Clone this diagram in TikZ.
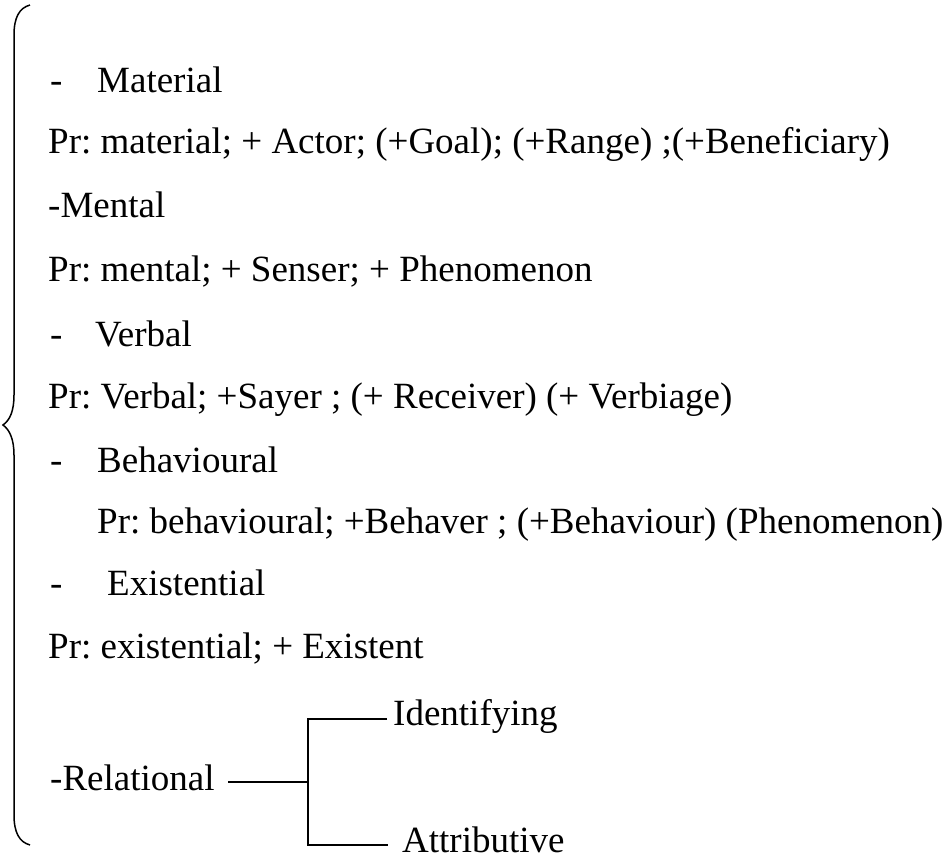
\documentclass[tikz,border=0pt]{standalone}
\usepackage{fontspec}
\setmainfont{Liberation Serif}
\frenchspacing
\begin{document}
\begin{tikzpicture}[x=1pt,y=-1pt,
  txt/.style={anchor=base west, inner sep=0pt, font=\fontsize{37}{44}\selectfont\frenchspacing},
  ln/.style={line width=1.8pt},
  bracestyle/.style={line width=1.5pt}]
\useasboundingbox (0,0) rectangle (950,857);
% brace
\draw[bracestyle] (30,5) .. controls (19,8) and (14,18) .. (14,35) -- (14,395)
  .. controls (14,411) and (10,420) .. (3,425)
  .. controls (10,430) and (14,440) .. (14,455) -- (14,815)
  .. controls (14,832) and (19,842) .. (30,845);
% rows
\node[txt] (d1) at (50,92) {-};
\node[txt] (mat) at (97,92) {Material};
\node[txt] (prmat) at (48,153) {Pr: material; + Actor; (+Goal); (+Range) ;(+Beneficiary)};
\node[txt] (men) at (48,217) {-Mental};
\node[txt] (prmen) at (48,281) {Pr: mental; + Senser; + Phenomenon};
\node[txt] (d2) at (50,346) {-};
\node[txt] (ver) at (95,346) {Verbal};
\node[txt] (prver) at (48,408) {Pr: Verbal; +Sayer ; (+ Receiver) (+ Verbiage)};
\node[txt] (d3) at (50,472) {-};
\node[txt] (beh) at (97,472) {Behavioural};
\node[txt] (prbeh) at (97,533) {Pr: behavioural; +Behaver ; (+Behaviour) (Phenomenon)};
\node[txt] (d4) at (50,595) {-};
\node[txt] (exi) at (107,595) {Existential};
\node[txt] (prexi) at (48,658) {Pr: existential; + Existent};
\node[txt] (ide) at (393,725) {Identifying};
\node[txt] (rel) at (50,790) {-Relational};
\node[txt] (att) at (402,852) {Attributive};
% tree
\coordinate (rs) at (228,782);
\coordinate (j) at (308,782);
\coordinate (jt) at (308,719);
\coordinate (jb) at (308,845);
\coordinate (te) at (387,719);
\coordinate (be) at (388,845);
\draw[ln] (rs) -- (j);
\draw[ln] (te) -- (jt) -- (jb) -- (be);
\end{tikzpicture}
\end{document}
